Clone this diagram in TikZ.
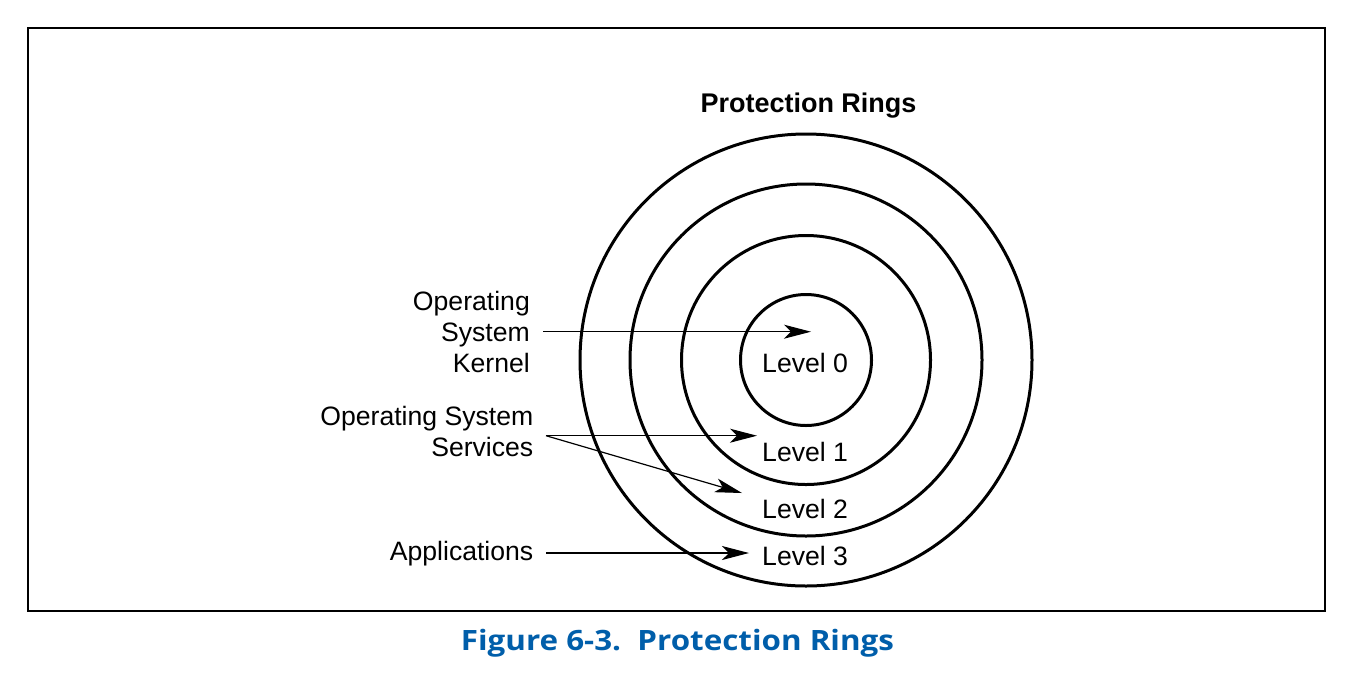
\documentclass[tikz,border=0pt]{standalone}
\usepackage{fontspec}
\setmainfont{Liberation Sans}
\newfontfamily\capfont{Open Sans}[FakeStretch=1.12]
\usetikzlibrary{arrows.meta}
\definecolor{capblue}{RGB}{0,94,170}
\tikzset{
  ring/.style={draw=black, line width=3pt},
  lbl/.style={inner sep=0pt, font=\fontsize{26.6}{31}\selectfont},
  ptr/.style={draw=black, line width=1.2pt, -{Stealth[length=27pt,width=14pt,inset=7pt]}},
}
\begin{document}
\begin{tikzpicture}[x=1pt,y=-1pt]
\useasboundingbox (0,0) rectangle (1354,689);
\node[draw=black, line width=2pt, minimum width=1297pt, minimum height=583pt, inner sep=0pt] (frame) at (676.5,319.5) {};
\node[lbl, font=\bfseries\fontsize{27}{32}\selectfont, anchor=base] (title) at (808.5,112) {Protection Rings};
\node[ring, circle, minimum size=452pt, inner sep=0pt] (r3) at (806,360) {};
\node[ring, circle, minimum size=352pt, inner sep=0pt] (r2) at (806,360) {};
\node[ring, circle, minimum size=249pt, inner sep=0pt] (r1) at (806,360) {};
\node[ring, circle, minimum size=131pt, inner sep=0pt] (r0) at (806,360) {};
\node[lbl, anchor=base west] (l0) at (762,372.3) {Level 0};
\node[lbl, anchor=base west] (l1) at (762,461.7) {Level 1};
\node[lbl, anchor=base west] (l2) at (762,518.3) {Level 2};
\node[lbl, anchor=base west] (l3) at (762,565.7) {Level 3};
\node[lbl, anchor=base east, align=right] (kern) at (530,372) {Operating\\System\\Kernel};
\node[lbl, anchor=base east, align=right] (serv) at (533.5,456.7) {Operating System\\Services};
\node[lbl, anchor=base east] (apps) at (533.5,560) {Applications};
\coordinate (ks) at (543,331.7);
\coordinate (kt) at (811,331.7);
\coordinate (ss) at (546,435.7);
\coordinate (s1) at (757,435.7);
\coordinate (s2) at (742,493);
\coordinate (as) at (546,553);
\coordinate (at3) at (749,553);
\draw[ptr] (ks) -- (kt);
\draw[ptr] (ss) -- (s1);
\draw[ptr] (ss) -- (s2);
\draw[ptr] (as) -- (at3);
\node[inner sep=0pt, anchor=base west, text=capblue, font=\capfont\bfseries\fontsize{28}{34}\selectfont] (cap) at (460.7,650.7) {Figure 6-3.\ \ Protection Rings};
\end{tikzpicture}
\end{document}
